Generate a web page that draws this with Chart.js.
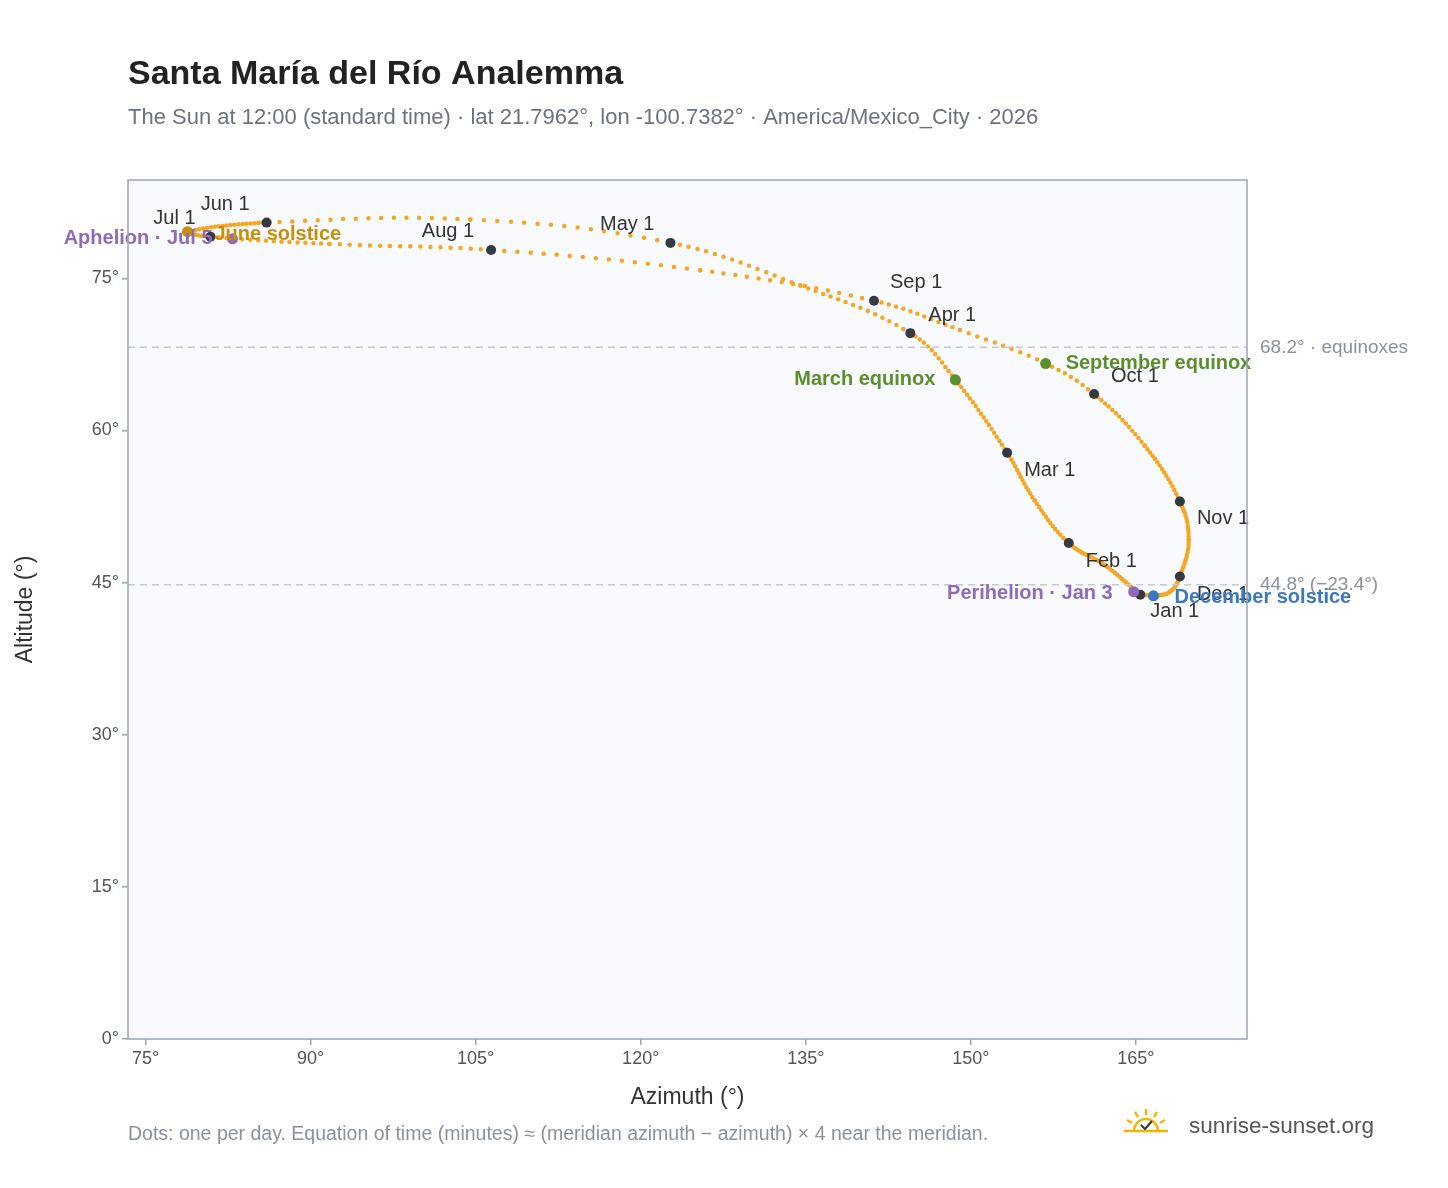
<!DOCTYPE html>
<html><head><meta charset="utf-8">
<script src="https://cdn.jsdelivr.net/npm/chart.js@4/dist/chart.umd.min.js"></script>
<style>body{margin:0;background:#fff}canvas{display:block}</style>
</head><body>
<canvas id="c" width="1448" height="1188"></canvas>
<script>
// analemma path: day of year, azimuth, altitude
const pathDays = [0, 15, 31, 45, 59, 78, 90, 105, 120, 135, 151, 171, 181, 196, 212, 228, 243, 255, 265, 273, 288, 304, 319, 334, 345, 354, 364];
const pathAz   = [165.4, 162.2, 158.9, 155.8, 153.3, 148.6, 144.5, 134.5, 122.7, 104.5, 86.0, 78.8, 80.9, 91.7, 106.4, 125.4, 141.2, 149.0, 156.8, 161.2, 165.8, 169.0, 169.8, 169.0, 168.1, 166.6, 165.8];
const pathAlt  = [43.8, 46.7, 48.9, 53.1, 57.8, 65.0, 69.6, 74.3, 78.5, 80.8, 80.5, 79.6, 79.1, 78.4, 77.8, 75.8, 72.8, 69.9, 66.6, 63.6, 58.5, 53.0, 49.2, 45.6, 44.1, 43.7, 43.8];

const monthLabels = ['Jan 1', 'Feb 1', 'Mar 1', 'Apr 1', 'May 1', 'Jun 1', 'Jul 1', 'Aug 1', 'Sep 1', 'Oct 1', 'Nov 1', 'Dec 1'];
const monthAz  = [165.4, 158.9, 153.3, 144.5, 122.7, 86.0, 80.9, 106.4, 141.2, 161.2, 169.0, 169.0];
const monthAlt = [43.8, 48.9, 57.8, 69.6, 78.5, 80.5, 79.1, 77.8, 72.8, 63.6, 53.0, 45.6];
const monthOff = [[10,17,'left'],[17,18,'left'],[17,18,'left'],[18,-18,'left'],[-16,-18,'right'],[-17,-18,'right'],[-15,-18,'right'],[-17,-18,'right'],[16,-18,'left'],[17,-18,'left'],[17,17,'left'],[17,18,'left']];

const eventLabels = ['March equinox', 'September equinox', 'June solstice', 'Aphelion · Jul 5', 'Perihelion · Jan 3', 'December solstice'];
const eventAz  = [148.6, 156.8, 78.8, 82.9, 164.8, 166.6];
const eventAlt = [65.0, 66.6, 79.6, 78.9, 44.1, 43.7];
const eventColors = ['#5b8f2c', '#5b8f2c', '#c8900a', '#8e6bb8', '#8e6bb8', '#3a78c2'];
const eventOff = [[-20,0,'right'],[20,0,'left'],[27,3,'left'],[-20,0,'right'],[-21,2,'right'],[21,2,'left']];

const refLines = [68.2, 44.8];
const refLabels = ['68.2° · equinoxes', '44.8° (−23.4°)'];
const xTicks = [75, 90, 105, 120, 135, 150, 165];
const yTicks = [0, 15, 30, 45, 60, 75];

const FONT = 'Liberation Sans, Arial, sans-serif';
const path = pathDays.map((d, i) => ({x: pathAz[i], y: pathAlt[i], d}));

const overlay = {
  id: 'overlay',
  beforeDatasetsDraw(chart) {
    const {ctx, chartArea: a} = chart;
    ctx.save();
    ctx.fillStyle = '#f8fafd';
    ctx.fillRect(a.left, a.top, a.right - a.left, a.bottom - a.top);
    ctx.restore();
  },
  afterDatasetsDraw(chart) {
    const {ctx, chartArea: a, scales: {x, y}} = chart;
    ctx.save();
    ctx.setLineDash([7, 5]);
    ctx.strokeStyle = '#c4c9d2';
    ctx.lineWidth = 1.5;
    ctx.font = '19px ' + FONT;
    ctx.textBaseline = 'middle';
    refLines.forEach((v, i) => {
      const py = y.getPixelForValue(v);
      ctx.beginPath(); ctx.moveTo(a.left, py); ctx.lineTo(a.right, py); ctx.stroke();
      ctx.fillStyle = '#8a919c';
      ctx.fillText(refLabels[i], a.right + 13, py);
    });
    ctx.setLineDash([]);
    ctx.fillStyle = '#333';
    ctx.font = '20px ' + FONT;
    monthLabels.forEach((t, i) => {
      const o = monthOff[i];
      ctx.textAlign = o[2];
      ctx.fillText(t, x.getPixelForValue(monthAz[i]) + o[0], y.getPixelForValue(monthAlt[i]) + o[1]);
    });
    ctx.font = 'bold 20px ' + FONT;
    eventLabels.forEach((t, i) => {
      const o = eventOff[i];
      ctx.textAlign = o[2];
      ctx.fillStyle = eventColors[i];
      ctx.fillText(t, x.getPixelForValue(eventAz[i]) + o[0], y.getPixelForValue(eventAlt[i]) + o[1]);
    });
    // frame
    ctx.strokeStyle = '#9aa5b4'; ctx.lineWidth = 1.5;
    ctx.strokeRect(a.left, a.top, a.right - a.left, a.bottom - a.top);
    // titles
    ctx.textAlign = 'left'; ctx.textBaseline = 'alphabetic';
    ctx.fillStyle = '#222';
    ctx.font = 'bold 34px ' + FONT;
    ctx.fillText('Santa María del Río Analemma', 128, 84);
    ctx.fillStyle = '#6b7280';
    ctx.font = '22px ' + FONT;
    ctx.fillText('The Sun at 12:00 (standard time) · lat 21.7962°, lon -100.7382° · America/Mexico_City · 2026', 128, 124);
    ctx.fillStyle = '#8a919c';
    ctx.font = '19.5px ' + FONT;
    ctx.fillText('Dots: one per day. Equation of time (minutes) ≈ (meridian azimuth − azimuth) × 4 near the meridian.', 128, 1140);
    ctx.fillStyle = '#555';
    ctx.font = '22.5px ' + FONT;
    ctx.fillText('sunrise-sunset.org', 1189, 1133);
    ctx.fillStyle = '#333';
    ctx.textAlign = 'center';
    ctx.font = '23px ' + FONT;
    ctx.fillText('Azimuth (°)', (a.left + a.right) / 2, 1104);
    ctx.save(); ctx.translate(32, (a.top + a.bottom) / 2); ctx.rotate(-Math.PI / 2);
    ctx.fillText('Altitude (°)', 0, 0); ctx.restore();
    // logo
    ctx.strokeStyle = '#f2b705'; ctx.lineWidth = 2.5;
    ctx.beginPath(); ctx.arc(1146, 1131, 12, Math.PI, 0); ctx.stroke();
    [-150, -120, -90, -60, -30].forEach(d => {
      const r = d * Math.PI / 180;
      ctx.beginPath();
      ctx.moveTo(1146 + 16 * Math.cos(r), 1131 + 16 * Math.sin(r));
      ctx.lineTo(1146 + 22 * Math.cos(r), 1131 + 22 * Math.sin(r));
      ctx.stroke();
    });
    ctx.beginPath(); ctx.moveTo(1124, 1131); ctx.lineTo(1168, 1131); ctx.stroke();
    ctx.strokeStyle = '#333'; ctx.lineWidth = 2;
    ctx.beginPath(); ctx.moveTo(1141, 1125); ctx.lineTo(1145, 1129); ctx.lineTo(1152, 1121); ctx.stroke();
    ctx.restore();
  }
};

new Chart(document.getElementById('c'), {
  type: 'scatter',
  data: {
    datasets: [
      {data: eventAz.map((v, i) => ({x: v, y: eventAlt[i]})), pointRadius: 5.5, pointBackgroundColor: eventColors, pointBorderWidth: 0, order: 0},
      {data: monthAz.map((v, i) => ({x: v, y: monthAlt[i]})), pointRadius: 5, pointBackgroundColor: '#333a44', pointBorderWidth: 0, order: 1},
      {data: path, showLine: true, pointRadius: 0, borderColor: '#f5a623', borderWidth: 4.5, tension: 0.4,
       borderCapStyle: 'round', order: 2,
       segment: {borderDash: c => {
         const dx = c.p1.x - c.p0.x, dy = c.p1.y - c.p0.y;
         const days = c.p1.raw.d - c.p0.raw.d;
         return [0, Math.max(0.01, Math.hypot(dx, dy) / days)];
       }}}
    ]
  },
  options: {
    responsive: false, animation: false,
    layout: {padding: {top: 180, right: 201, left: 0, bottom: 0}},
    plugins: {legend: {display: false}, tooltip: {enabled: false}},
    scales: {
      x: {type: 'linear', min: 73.4, max: 175.1,
          afterBuildTicks: s => { s.ticks = xTicks.map(v => ({value: v})); },
          afterFit: s => { s.height = 149; },
          grid: {color: '#e4e8ee', lineWidth: 1.5, tickLength: 6, tickColor: '#9aa5b4'},
          border: {display: false},
          ticks: {color: '#555', font: {size: 18, family: FONT}, callback: v => v + '°', maxRotation: 0}},
      y: {type: 'linear', min: 0, max: 84.7,
          afterBuildTicks: s => { s.ticks = yTicks.map(v => ({value: v})); },
          afterFit: s => { s.width = 128; },
          grid: {color: '#e4e8ee', lineWidth: 1.5, tickLength: 6, tickColor: '#9aa5b4'},
          border: {display: false},
          ticks: {color: '#555', font: {size: 18, family: FONT}, callback: v => v + '°'}}
    }
  },
  plugins: [overlay]
});
</script>
</body></html>
